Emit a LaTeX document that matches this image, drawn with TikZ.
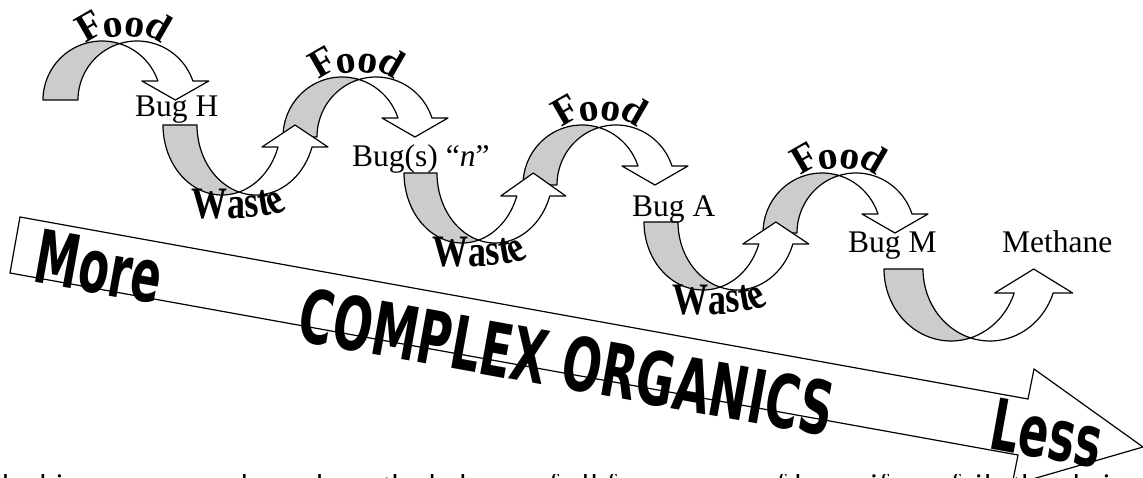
\documentclass[tikz,border=0pt]{standalone}
\usepackage{fontspec}
\usepackage{graphicx}
\setmainfont{Liberation Serif}
\newfontfamily\bandfamily{DejaVu Sans}

\definecolor{backgray}{gray}{0.8}

\tikzset{
  outline/.style={draw=black, line width=1.2pt, line join=round},
  backface/.style={outline, fill=backgray},
  frontface/.style={outline, fill=white},
  bugtext/.style={anchor=base west, inner sep=0pt, font=\fontsize{31.5}{36}\selectfont},
  bandtext/.style={inner sep=0pt, rotate=-10.2, font=\bandfamily\bfseries},
  bandarrow/.style={draw=black, line width=1.2pt, fill=white, line join=miter},
  foodletter/.style={anchor=base, inner sep=0pt, font=\fontsize{40}{40}\selectfont\bfseries},
  wasteletter/.style={anchor=base, inner sep=0pt, font=\fontsize{36}{36}\selectfont\bfseries},
}

% Curved ribbon arrow bending over the top and pointing down.
% #1 left x, #2 foot y, #3 x radius, #4 y radius, #5 ribbon width,
% #6 height of the head base above the foot, #7 head overhang
\newcommand\foodarrow[7]{%
  \pgfmathsetmacro\arrCA{#1+#3}%
  \pgfmathsetmacro\arrCB{#1+#5+#3}%
  \pgfmathsetmacro\arrTP{acos(#5/(2*#3))}%
  \pgfmathsetmacro\arrTI{asin(#6/#4)}%
  \pgfmathsetmacro\arrAP{360-\arrTP}%
  \pgfmathsetmacro\arrBP{180+\arrTP}%
  \pgfmathsetmacro\arrAI{360-\arrTI}%
  \pgfmathsetmacro\arrXin{\arrCA+#3*cos(\arrTI)}%
  \pgfmathsetmacro\arrXout{\arrCB+#3*cos(\arrTI)}%
  \pgfmathsetmacro\arrYb{#2-#6}%
  \pgfmathsetmacro\arrXm{(\arrXin+\arrXout)/2}%
  \path[backface] plot[domain=180:\arrAP] ({\arrCA+#3*cos(\x)},{#2+#4*sin(\x)})
     -- plot[domain=\arrBP:180] ({\arrCB+#3*cos(\x)},{#2+#4*sin(\x)}) -- cycle;
  \path[frontface] plot[domain=\arrAP:\arrAI] ({\arrCA+#3*cos(\x)},{#2+#4*sin(\x)})
     -- (\arrXin-#7,\arrYb) -- (\arrXm,#2) -- (\arrXout+#7,\arrYb) -- (\arrXout,\arrYb)
     -- plot[domain=\arrAI:\arrBP] ({\arrCB+#3*cos(\x)},{#2+#4*sin(\x)}) -- cycle;
}

% Curved ribbon arrow dipping down and pointing up.
\newcommand\wastearrow[7]{%
  \pgfmathsetmacro\arrCA{#1+#3}%
  \pgfmathsetmacro\arrCB{#1+#5+#3}%
  \pgfmathsetmacro\arrTP{acos(#5/(2*#3))}%
  \pgfmathsetmacro\arrTI{asin(#6/#4)}%
  \pgfmathsetmacro\arrBP{180-\arrTP}%
  \pgfmathsetmacro\arrXin{\arrCA+#3*cos(\arrTI)}%
  \pgfmathsetmacro\arrXout{\arrCB+#3*cos(\arrTI)}%
  \pgfmathsetmacro\arrYb{#2+#6}%
  \pgfmathsetmacro\arrXm{(\arrXin+\arrXout)/2}%
  \path[backface] plot[domain=180:\arrTP] ({\arrCA+#3*cos(\x)},{#2+#4*sin(\x)})
     -- plot[domain=\arrBP:180] ({\arrCB+#3*cos(\x)},{#2+#4*sin(\x)}) -- cycle;
  \path[frontface] plot[domain=\arrTP:\arrTI] ({\arrCA+#3*cos(\x)},{#2+#4*sin(\x)})
     -- (\arrXin-#7,\arrYb) -- (\arrXm,#2) -- (\arrXout+#7,\arrYb) -- (\arrXout,\arrYb)
     -- plot[domain=\arrTI:\arrBP] ({\arrCB+#3*cos(\x)},{#2+#4*sin(\x)}) -- cycle;
}

% Arched word "Food": #1 name, #2 centre x, #3 top of the arrow
\newcommand\foodword[3]{%
  \node[foodletter, rotate=30]  (#1-1) at (#2-29,#3-4) {F};
  \node[foodletter, rotate=8]   (#1-2) at (#2-11,#3-4) {o};
  \node[foodletter, rotate=-8]  (#1-3) at (#2+8,#3-4) {o};
  \node[foodletter, rotate=-30] (#1-4) at (#2+27,#3-3) {d};
}
% Word "Waste" curling up at its end: #1 name, #2 left x, #3 baseline y
\newcommand\wasteword[3]{%
  \node[wasteletter]            (#1-1) at (#2+18,#3)     {\scalebox{1}[1.25]{W}};
  \node[wasteletter]            (#1-2) at (#2+45,#3)     {\scalebox{1}[1.25]{a}};
  \node[wasteletter, rotate=4]  (#1-3) at (#2+61.5,#3-2) {\scalebox{1}[1.25]{s}};
  \node[wasteletter, rotate=10] (#1-4) at (#2+75,#3-4)   {\scalebox{1}[1.25]{t}};
  \node[wasteletter, rotate=28] (#1-5) at (#2+90,#3-6)   {\scalebox{1}[1.25]{e}};
}

\begin{document}
\begin{tikzpicture}[x=1pt, y=-1pt, samples=40]
  \useasboundingbox (0,0) rectangle (1143,478);
  \fill[white] (0,0) rectangle (1143,478);
  \clip (0,0) rectangle (1143,478);

  % broad arrow of decreasing complexity
  \coordinate (bl) at (10,273);
  \coordinate (tl) at (20,217);
  \coordinate (nt) at (1028,399);
  \coordinate (ht) at (1034,369);
  \coordinate (tip) at (1143,447);
  \coordinate (hb) at (1012,485);
  \coordinate (nb) at (1018,455);
  \path[bandarrow] (bl) -- (tl) -- (nt) -- (ht) -- (tip) -- (hb) -- (nb) -- cycle;
  \node[bandtext] (more) at (99,267) {\resizebox{127pt}{54pt}{More}};
  \node[bandtext] (complex) at (567,362) {\resizebox{541pt}{55pt}{COMPLEX ORGANICS}};
  \node[bandtext] (less) at (1047,433) {\resizebox{111pt}{52pt}{Less}};

  % food arrows
  \foodarrow{43}{100}{59}{59}{35}{19}{16}
  \foodarrow{283}{137}{59}{60}{34}{19}{16}
  \foodarrow{523}{185}{59}{60}{34}{19}{16}
  \foodarrow{763}{233}{59}{60}{34}{19}{16}

  % waste arrows
  \wastearrow{163}{125}{59}{70}{34}{22}{16}
  \wastearrow{404}{173}{58}{70}{33}{23}{16}
  \wastearrow{644}{222}{59}{68}{34}{22}{16}
  \wastearrow{884}{269}{67}{72}{39}{24}{19.5}

  \foodword{food1}{125}{41}
  \foodword{food2}{358}{77}
  \foodword{food3}{601}{125}
  \foodword{food4}{840}{173}

  \wasteword{waste1}{191}{219}
  \wasteword{waste2}{432}{267}
  \wasteword{waste3}{672}{314}

  % organisms
  \node[bugtext] (bugH) at (135,117) {Bug H};
  \node[bugtext] (bugN) at (352,167) {Bug(s) “\textit{n}”};
  \node[bugtext] (bugA) at (632,217) {Bug A};
  \node[bugtext] (bugM) at (848,253) {Bug M};
  \node[bugtext] (methane) at (1002,253) {Methane};

  % running text below: only the tops of its tallest letters reach the page
  \begin{scope}
    \clip (0,474) rectangle (1143,478);
    \node[bugtext] (note) at (-7,495.5) {the biogas process depends on the balance of all four groups of bugs, if one fails the chain stops};
  \end{scope}
\end{tikzpicture}
\end{document}
